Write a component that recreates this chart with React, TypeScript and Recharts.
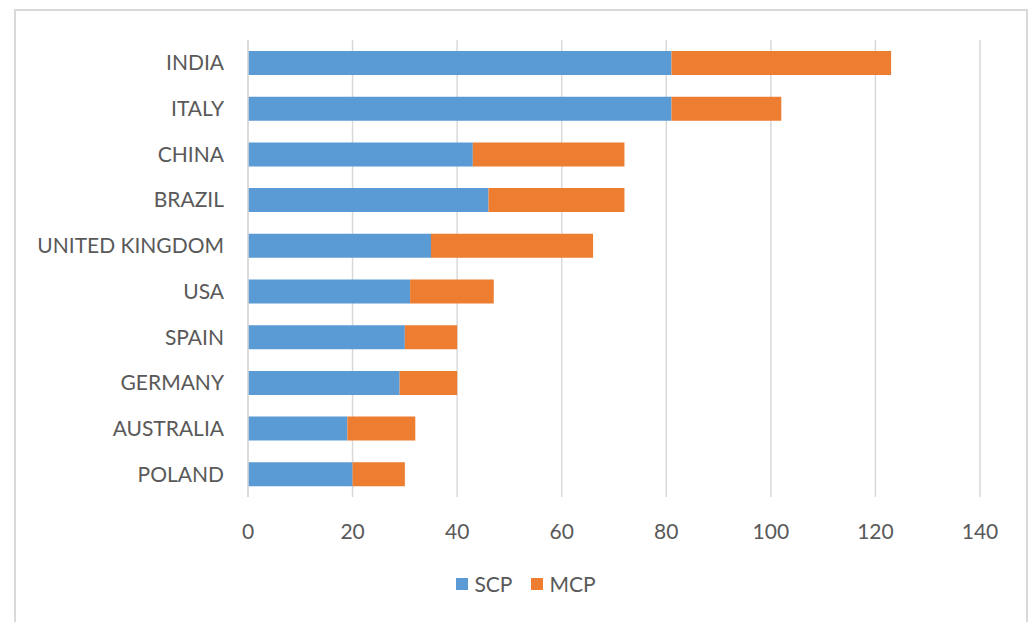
import { BarChart, Bar, XAxis, YAxis, CartesianGrid, Legend } from 'recharts';

const countries = ['INDIA', 'ITALY', 'CHINA', 'BRAZIL', 'UNITED KINGDOM', 'USA', 'SPAIN', 'GERMANY', 'AUSTRALIA', 'POLAND'];
const scpValues = [81, 81, 43, 46, 35, 31, 30, 29, 19, 20];
const mcpValues = [42, 21, 29, 26, 31, 16, 10, 11, 13, 10];
const xTicks = [0, 20, 40, 60, 80, 100, 120, 140];

const SCP_COLOR = '#5b9bd5';
const MCP_COLOR = '#ed7d31';
const TEXT_COLOR = '#595959';
const GRID_COLOR = '#d9d9d9';
const FONT = 'Lato, "Open Sans", sans-serif';

const data = countries.map((country, i) => ({
  country,
  SCP: scpValues[i],
  MCP: mcpValues[i],
}));

function LegendContent() {
  const items = [
    { name: 'SCP', color: SCP_COLOR },
    { name: 'MCP', color: MCP_COLOR },
  ];
  return (
    <div style={{ display: 'flex', justifyContent: 'center', paddingLeft: 38, fontFamily: FONT, fontSize: 21, color: TEXT_COLOR }}>
      {items.map((it) => (
        <div key={it.name} style={{ display: 'flex', alignItems: 'center', marginRight: 19 }}>
          <span style={{ width: 12, height: 12, background: it.color, display: 'inline-block', marginRight: 6 }} />
          <span>{it.name}</span>
        </div>
      ))}
    </div>
  );
}

export default function App() {
  return (
    <div style={{ position: 'absolute', left: 0, top: 0, width: 1033, height: 622, background: '#fff', overflow: 'hidden' }}>
      <div
        style={{
          position: 'absolute',
          left: 14,
          top: 9,
          width: 1014,
          height: 640,
          border: `2px solid ${GRID_COLOR}`,
          boxSizing: 'border-box',
        }}
      />
      <BarChart
        width={1033}
        height={622}
        data={data}
        layout="vertical"
        margin={{ top: 40, right: 53, left: 0, bottom: 85 }}
        style={{ position: 'absolute', left: 0, top: 0 }}
      >
        <CartesianGrid horizontal={false} stroke={GRID_COLOR} strokeWidth={1.5} />
        <XAxis
          type="number"
          domain={[0, 140]}
          ticks={xTicks}
          axisLine={false}
          tickLine={false}
          tickSize={0}
          tickMargin={27}
          height={40}
          tick={{ fill: TEXT_COLOR, fontSize: 21, fontFamily: FONT }}
        />
        <YAxis
          type="category"
          dataKey="country"
          width={248}
          axisLine={{ stroke: GRID_COLOR, strokeWidth: 1.5 }}
          tickLine={false}
          tickSize={0}
          tickMargin={24}
          interval={0}
          tick={{ fill: TEXT_COLOR, fontSize: 21, fontFamily: FONT }}
        />
        <Legend
          verticalAlign="middle"
          layout="horizontal"
          content={<LegendContent />}
          wrapperStyle={{ top: 571, left: 0, width: 1033 }}
        />
        <Bar dataKey="SCP" stackId="a" fill={SCP_COLOR} barSize={24} isAnimationActive={false} />
        <Bar dataKey="MCP" stackId="a" fill={MCP_COLOR} barSize={24} isAnimationActive={false} />
      </BarChart>
    </div>
  );
}
